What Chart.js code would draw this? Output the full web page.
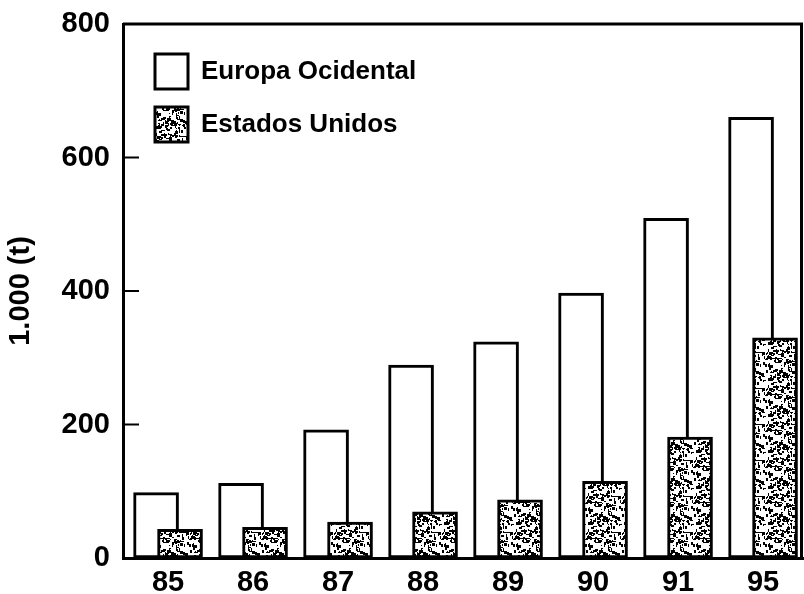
<!DOCTYPE html>
<html>
<head>
<meta charset="utf-8">
<script src="https://cdn.jsdelivr.net/npm/chart.js@4/dist/chart.umd.min.js"></script>
<style>
  html, body { margin: 0; padding: 0; background: #fff; }
</style>
</head>
<body>
<canvas id="chart" width="804" height="594"></canvas>
<script>
// values (thousand tonnes)
const years = ['85', '86', '87', '88', '89', '90', '91', '95'];
const europa = [98, 112, 192, 289, 324, 397, 509, 660];
const eua = [43, 46, 54, 69, 87, 115, 181, 330];
const yTicks = [0, 200, 400, 600, 800];

const FONT = "'Liberation Sans', Arial, sans-serif";
const shift = 0.141; // half the overlap offset between the two bars of a year

// speckled fill used for the US bars
function stipple() {
    var c = document.createElement('canvas');
    c.width = c.height = 36;
    var g = c.getContext('2d');
    g.fillStyle = '#fff';
    g.fillRect(0, 0, 36, 36);
    g.fillStyle = '#000';
    var s = 11;
    var rnd = function() { s = (s * 16807) % 2147483647; return s / 2147483647; };
    for (var k = 0; k < 170; k++) {
        g.fillRect(Math.floor(rnd() * 36), Math.floor(rnd() * 36), 1 + Math.floor(rnd() * 3), 1 + Math.floor(rnd() * 3));
    }
    return g.createPattern(c, 'repeat');
}

// top/right frame and the short inward ticks on the y axis
const frame = {
    id: 'frame',
    afterDraw: function(chart) {
        var ctx = chart.ctx, a = chart.chartArea, y = chart.scales.y;
        ctx.save();
        ctx.strokeStyle = '#000';
        ctx.lineWidth = 3;
        ctx.beginPath();
        ctx.moveTo(a.left, a.top);
        ctx.lineTo(a.right - 1.5, a.top);
        ctx.lineTo(a.right - 1.5, a.bottom);
        ctx.stroke();
        ctx.lineWidth = 2;
        yTicks.slice(1, -1).forEach(function(v) {
            var py = y.getPixelForValue(v);
            ctx.beginPath();
            ctx.moveTo(a.left, py);
            ctx.lineTo(a.left + 16, py);
            ctx.stroke();
        });
        ctx.restore();
    }
};

// put the in-plot legend where the figure has it (vertical legends reset top to 0)
const legendNudge = {
    id: 'legendNudge',
    afterLayout: function(chart) {
        chart.legend.left = chart.chartArea.left + 14;
        chart.legend.top = chart.chartArea.top + 12;
    }
};

new Chart(document.getElementById('chart').getContext('2d'), {
    type: 'bar',
    data: {
        datasets: [ {
            label: 'Europa Ocidental',
            data: europa.map(function(v, i) { return { x: i - shift, y: v }; }),
            backgroundColor: '#fff',
            borderColor: '#000',
            borderWidth: 3,
            order: 1
        }, {
            label: 'Estados Unidos',
            data: eua.map(function(v, i) { return { x: i + shift, y: v }; }),
            backgroundColor: stipple(),
            borderColor: '#000',
            borderWidth: 3,
            order: 0
        } ]
    },
    options: {
        responsive: false,
        animation: false,
        layout: { padding: { top: 24, right: 1, left: 0, bottom: 0 } },
        datasets: { bar: { grouped: false, barThickness: 45, borderSkipped: false } },
        scales: {
            x: {
                type: 'linear',
                offset: false,
                min: -0.53,
                max: 7.47,
                grid: { display: false, drawTicks: false },
                border: { color: '#000', width: 3 },
                afterBuildTicks: function(s) { s.ticks = years.map(function(_, i) { return { value: i }; }); },
                afterFit: function(s) { s.height = 36; },
                ticks: {
                    callback: function(v) { return years[v]; },
                    autoSkip: false,
                    maxRotation: 0,
                    padding: 8,
                    color: '#000',
                    font: { family: FONT, size: 29, weight: 'bold' }
                }
            },
            y: {
                min: 0,
                max: 800,
                grid: { display: false, drawTicks: false },
                border: { color: '#000', width: 3 },
                afterBuildTicks: function(s) { s.ticks = yTicks.map(function(v) { return { value: v }; }); },
                afterFit: function(s) { s.width = 123; s.paddingTop = 0; },
                ticks: {
                    padding: 13,
                    color: '#000',
                    font: { family: FONT, size: 29, weight: 'bold' }
                },
                title: {
                    display: true,
                    text: '1.000 (t)',
                    color: '#000',
                    padding: { top: 4, bottom: 0 },
                    font: { family: FONT, size: 29, weight: 'bold' }
                }
            }
        },
        plugins: {
            legend: {
                position: 'chartArea',
                align: 'start',
                labels: {
                    boxWidth: 33,
                    boxHeight: 35,
                    padding: 18,
                    color: '#000',
                    font: { family: FONT, size: 26, weight: 'bold' },
                    sort: function(a, b) { return a.datasetIndex - b.datasetIndex; }
                }
            },
            tooltip: { enabled: false }
        }
    },
    plugins: [ frame, legendNudge ]
});
</script>
</body>
</html>
